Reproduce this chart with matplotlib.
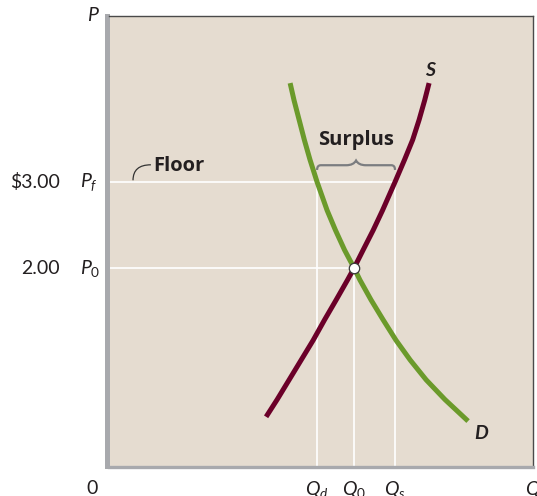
import matplotlib
matplotlib.use("Agg")
import matplotlib.pyplot as plt
from matplotlib.path import Path
from matplotlib.patches import PathPatch
import matplotlib.transforms as mtransforms

plt.rcParams['font.family'] = ['Lato', 'DejaVu Sans']
plt.rcParams['mathtext.fontset'] = 'custom'
plt.rcParams['mathtext.rm'] = 'Lato'
plt.rcParams['mathtext.it'] = 'Lato:italic'
plt.rcParams['mathtext.bf'] = 'Lato:bold'

# supply curve S (quantity, price)
supply_q = [6.41, 6.86, 7.35, 7.84, 8.33, 8.80, 9.27, 9.73, 10.0, 10.37, 10.78,
            11.16, 11.67, 12.06, 12.39, 12.65, 12.88, 13.06]
supply_p = [0.27, 0.47, 0.70, 0.93, 1.16, 1.40, 1.63, 1.86, 2.0, 2.21, 2.44,
            2.67, 3.0, 3.26, 3.49, 3.72, 3.95, 4.15]

# demand curve D
demand_q = [7.39, 7.55, 7.76, 7.97, 8.20, 8.49, 8.90, 9.24, 9.61, 10.0, 10.24,
            10.69, 11.18, 11.71, 12.29, 12.94, 13.71, 14.65]
demand_p = [4.15, 3.95, 3.72, 3.49, 3.26, 3.0, 2.67, 2.44, 2.21, 2.0, 1.86,
            1.63, 1.40, 1.16, 0.93, 0.70, 0.47, 0.22]

# price floor and equilibrium
p_floor = 3.0
p_eq = 2.0
q_d = 8.49
q_eq = 10.0
q_s = 11.67

price_labels = ['$3.00', '2.00']
price_symbols = [r'$P_f$', r'$P_0$']
qty_labels = [r'$Q_d$', r'$Q_0$', r'$Q_s$']

bg = '#e5dcd0'
s_color = '#6b0029'
d_color = '#6b9a2b'
axis_gray = '#a8a9ad'
text_color = '#231f20'

fig = plt.figure(figsize=(5.37, 4.96), dpi=100)
ax = fig.add_axes([109 / 537, 1 - 466 / 496, 424 / 537, 450 / 496])
ax.set_facecolor(bg)
ax.set_xlim(0, 17.3)
ax.set_ylim(-0.302, 4.93)

# guide lines
ax.plot([0, q_s], [p_floor, p_floor], color='white', lw=1.2, zorder=1)
ax.plot([0, q_eq], [p_eq, p_eq], color='white', lw=1.2, zorder=1)
for q, p in [(q_d, p_floor), (q_eq, p_eq), (q_s, p_floor)]:
    ax.plot([q, q], [-0.302, p], color='white', lw=1.2, zorder=1)

ax.plot(supply_q, supply_p, color=s_color, lw=3.6, solid_capstyle='butt',
        solid_joinstyle='round', zorder=3)
ax.plot(demand_q, demand_p, color=d_color, lw=3.6, solid_capstyle='butt',
        solid_joinstyle='round', zorder=2)
ax.plot([q_eq], [p_eq], 'o', ms=7.5, mfc='white', mec='#3a3a3a', mew=0.9, zorder=4)

ax.text(13.1, 4.30, 'S', fontsize=14, fontweight='bold', fontstyle='italic',
        color=text_color, ha='center', va='center')
ax.text(15.18, 0.08, 'D', fontsize=14, fontweight='bold', fontstyle='italic',
        color=text_color, ha='center', va='center')

# surplus brace
yb = 3.14
h = 0.055
xm = (q_d + q_s) / 2
verts = [(q_d, yb), (q_d, yb + h), (q_d + 0.15, yb + h), (q_d + 0.5, yb + h),
         (xm - 0.4, yb + h), (xm - 0.1, yb + h), (xm, yb + 2 * h),
         (xm + 0.1, yb + h), (xm + 0.4, yb + h), (q_s - 0.5, yb + h),
         (q_s - 0.15, yb + h), (q_s, yb + h), (q_s, yb)]
codes = [Path.MOVETO, Path.CURVE3, Path.CURVE3, Path.LINETO,
         Path.LINETO, Path.CURVE3, Path.CURVE3, Path.CURVE3, Path.CURVE3,
         Path.LINETO, Path.LINETO, Path.CURVE3, Path.CURVE3]
ax.add_patch(PathPatch(Path(verts, codes), fill=False, ec='#7b7d80', lw=1.6, zorder=3))
ax.text(xm, 3.49, 'Surplus', fontsize=14.5, fontweight='bold', color=text_color,
        family=['Open Sans', 'DejaVu Sans'], ha='center', va='center')

# floor label with leader
leader = Path([(0.98, 3.02), (0.98, 3.20), (1.71, 3.20)],
              [Path.MOVETO, Path.CURVE3, Path.CURVE3])
ax.add_patch(PathPatch(leader, fill=False, ec='#333333', lw=0.9, zorder=3))
ax.text(1.79, 3.19, 'Floor', fontsize=14.5, fontweight='bold', color=text_color,
        family=['Open Sans', 'DejaVu Sans'], ha='left', va='center')

for s in ['left', 'bottom']:
    ax.spines[s].set_color(axis_gray)
ax.spines['left'].set_linewidth(3.6)
ax.spines['left'].set_position(('outward', 1.8))
ax.spines['bottom'].set_linewidth(2.4)
ax.spines['bottom'].set_position(('outward', 1.0))
for s in ['top', 'right']:
    ax.spines[s].set_color('#4a4a4a')
    ax.spines[s].set_linewidth(1.0)
ax.set_xticks([])
ax.set_yticks([])

# axis labels as text
ytr = mtransforms.blended_transform_factory(fig.transFigure, ax.transData)
for p, lab, sym in zip([p_floor, p_eq], price_labels, price_symbols):
    ax.text(60 / 537, p, lab, transform=ytr, fontsize=14, color=text_color,
            ha='right', va='center')
    ax.text(80 / 537, p, sym, transform=ytr, fontsize=14, color=text_color,
            ha='left', va='center')

xtr = mtransforms.blended_transform_factory(ax.transData, fig.transFigure)
for q, lab in zip([q_d, q_eq, q_s], qty_labels):
    ax.text(q, 1 - 490 / 496, lab, transform=xtr, fontsize=14, color=text_color,
            ha='center', va='center')
fig.text(92 / 537, 1 - 488 / 496, '0', fontsize=14, color=text_color,
         ha='center', va='center')
fig.text(533 / 537, 1 - 490 / 496, r'$Q$', fontsize=14, color=text_color,
         ha='center', va='center')
fig.text(93 / 537, 1 - 15 / 496, r'$P$', fontsize=14, color=text_color,
         ha='center', va='center')

fig.savefig('out.png', dpi=100, facecolor='white')
